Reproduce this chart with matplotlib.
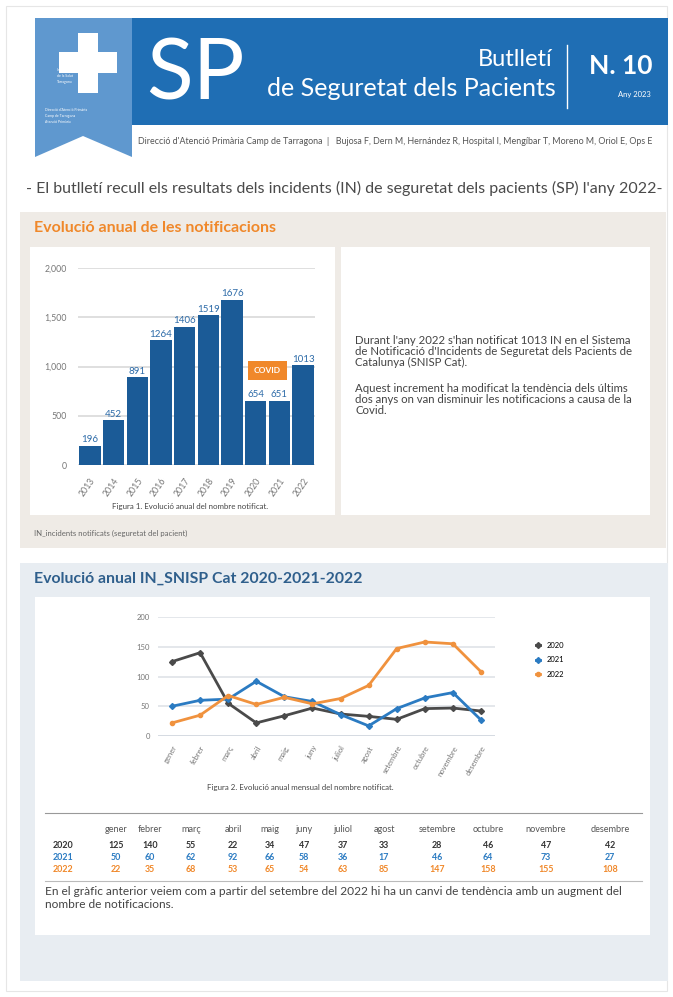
import matplotlib.pyplot as plt
from matplotlib.patches import Rectangle, Polygon

plt.rcParams['font.family'] = ['Lato', 'DejaVu Sans']

# notificacions anuals
anys = ['2013', '2014', '2015', '2016', '2017', '2018', '2019', '2020', '2021', '2022']
notificacions = [196, 452, 891, 1264, 1406, 1519, 1676, 654, 651, 1013]

# notificacions mensuals 2020-2022
mesos = ['gener', 'febrer', 'març', 'abril', 'maig', 'juny', 'juliol', 'agost',
         'setembre', 'octubre', 'novembre', 'desembre']
n2020 = [125, 140, 55, 22, 34, 47, 37, 33, 28, 46, 47, 42]
n2021 = [50, 60, 62, 92, 66, 58, 36, 17, 46, 64, 73, 27]
n2022 = [22, 35, 68, 53, 65, 54, 63, 85, 147, 158, 155, 108]

W, H = 673, 997
BLAU = '#1f6eb4'
BARRA = '#1b5b97'
TARONJA = '#f0882a'
GRIS = '#444444'

fig = plt.figure(figsize=(W / 100, H / 100), dpi=100)
fig.patch.set_facecolor('white')

# capa de fons en coordenades de pixel
bg = fig.add_axes([0, 0, 1, 1])
bg.set_xlim(0, W)
bg.set_ylim(H, 0)
bg.axis('off')


def caixa(x, y, w, h, color, **kw):
    bg.add_patch(Rectangle((x, y), w, h, facecolor=color, edgecolor='none', **kw))


def eix(x, y, w, h):
    return fig.add_axes([x / W, 1 - (y + h) / H, w / W, h / H])


# capçalera
bg.add_patch(Rectangle((6, 6), 661, 985, facecolor='none', edgecolor='#e6e6e6', lw=0.8))
caixa(35, 18, 633, 107, BLAU)
bg.add_patch(Polygon([(35, 18), (132, 18), (132, 157), (83, 136), (35, 157)],
                     closed=True, facecolor='#5f98cf', edgecolor='none'))
caixa(78, 33, 20, 60, 'white')
caixa(59, 52, 58, 21, 'white')
for yy, t in [(70, 'Institut Català'), (76, 'de la Salut'), (82, 'Tarragona')]:
    bg.text(57, yy, t, color='white', fontsize=2.5, ha='left', va='center')
for yy, t in [(110, 'Direcció d\'Atenció Primària'), (116, 'Camp de Tarragona'),
              (122, 'Atenció Primària')]:
    bg.text(45, yy, t, color='white', fontsize=2.5, ha='left', va='center')
bg.text(146, 76, 'SP', color='white', fontsize=62, ha='left', va='center')
bg.text(553, 60, 'Butlletí', color='white', fontsize=17, ha='right', va='center')
bg.text(556, 88, 'de Seguretat dels Pacients', color='white', fontsize=18,
        ha='right', va='center')
bg.plot([567, 567], [45, 108], color='white', lw=1)
bg.text(621, 66, 'N. 10', color='white', fontsize=19, fontweight='bold',
        ha='center', va='center')
bg.text(634, 94, 'Any 2023', color='white', fontsize=5.5, ha='center', va='center')
bg.text(138, 142, "Direcció d'Atenció Primària Camp de Tarragona  |   Bujosa F, Dern M, "
        "Hernández R, Hospital I, Mengíbar T, Moreno M, Oriol E, Ops E",
        color='#555555', fontsize=6.4, ha='left', va='center')

bg.text(344, 188, "- El butlletí recull els resultats dels incidents (IN) de seguretat "
        "dels pacients (SP) l'any 2022-", color='#4a4a4a', fontsize=11.5,
        ha='center', va='center')

# secció 1
caixa(20, 212, 646, 336, '#efebe6')
bg.text(34, 228, 'Evolució anual de les notificacions', color=TARONJA,
        fontsize=11.5, fontweight='bold', ha='left', va='center')
caixa(30, 247, 305, 268, 'white')
caixa(341, 247, 309, 268, 'white')
bg.text(34, 533, 'IN_incidents notificats (seguretat del pacient)', color='#666666',
        fontsize=5.6, ha='left', va='center')

text1 = ["Durant l'any 2022 s'han notificat 1013 IN en el Sistema",
         "de Notificació d'Incidents de Seguretat dels Pacients de",
         "Catalunya (SNISP Cat)."]
text2 = ["Aquest increment ha modificat la tendència dels últims",
         "dos anys on van disminuir les notificacions a causa de la",
         "Covid."]
for i, t in enumerate(text1):
    bg.text(355, 340 + i * 11, t, color='#444444', fontsize=8.2, ha='left', va='center')
for i, t in enumerate(text2):
    bg.text(355, 388 + i * 11, t, color='#444444', fontsize=8.2, ha='left', va='center')

# gràfic de barres
ax1 = eix(78, 268, 237, 197)
ax1.bar(anys, notificacions, width=0.9, color=BARRA, zorder=3)
ax1.set_ylim(0, 2000)
ax1.set_xlim(-0.5, len(anys) - 0.5)
ax1.set_yticks([0, 500, 1000, 1500, 2000])
ax1.set_yticklabels(['0', '500', '1,000', '1,500', '2,000'])
ax1.grid(axis='y', color='#d9d9d9', lw=1.2, zorder=0)
for s in ax1.spines.values():
    s.set_visible(False)
ax1.tick_params(length=0, labelsize=6.3, colors='#777777', pad=8)
plt.setp(ax1.get_xticklabels(), rotation=55, ha='right', rotation_mode='anchor')
for i, v in enumerate(notificacions):
    ax1.text(i, v + 15, str(v), color='#2d6ba8', fontsize=7, ha='center', va='bottom',
             zorder=4)
ax1.text(7.5, 960, 'COVID', color='white', fontsize=6, fontweight='bold',
         ha='center', va='center', zorder=5,
         bbox=dict(boxstyle='square,pad=0.75', facecolor=TARONJA, edgecolor='none'))
bg.text(190, 506, 'Figura 1. Evolució anual del nombre notificat.', color='#444444',
        fontsize=5.7, ha='center', va='center')

# secció 2
caixa(20, 563, 648, 418, '#e8edf2')
bg.text(34, 579, 'Evolució anual IN_SNISP Cat 2020-2021-2022', color='#2f5f8c',
        fontsize=11.4, fontweight='bold', ha='left', va='center')
caixa(35, 597, 615, 338, 'white')

ax2 = eix(158, 617, 337, 119)
x = range(len(mesos))
ax2.plot(x, n2020, color='#4a4a4a', lw=2, marker='D', ms=3, label='2020', zorder=3)
ax2.plot(x, n2021, color='#2b7bc2', lw=2, marker='D', ms=3, label='2021', zorder=3)
ax2.plot(x, n2022, color='#f0923e', lw=2, marker='o', ms=3, label='2022', zorder=3)
ax2.set_ylim(0, 200)
ax2.set_xlim(-0.5, 11.5)
ax2.set_yticks([0, 50, 100, 150, 200])
ax2.set_xticks(list(x))
ax2.set_xticklabels(mesos)
ax2.grid(axis='y', color='#dfe3e8', lw=1.2, zorder=0)
ax2.axhline(0, color='#9aaabb', lw=1.2, zorder=1)
for s in ax2.spines.values():
    s.set_visible(False)
ax2.tick_params(length=0, labelsize=5.5, colors='#777777', pad=6)
plt.setp(ax2.get_xticklabels(), rotation=60, ha='right', rotation_mode='anchor')
ax2.legend(loc='upper left', bbox_to_anchor=(1.1, 0.85), frameon=False, fontsize=5.5,
           handlelength=0.6, labelspacing=1.0)
bg.text(300, 787, 'Figura 2. Evolució anual mensual del nombre notificat.',
        color='#444444', fontsize=5.7, ha='center', va='center')

# taula de valors mensuals
cols = [116, 150, 191, 233, 270, 304, 343, 384, 437, 488, 546, 610]
bg.plot([45, 642], [813, 813], color='#999999', lw=0.8)
bg.plot([45, 642], [881, 881], color='#bbbbbb', lw=0.8)
for cx, m in zip(cols, mesos):
    bg.text(cx, 829, m, color='#555555', fontsize=6.6, ha='center', va='center')
files = [('2020', n2020, '#333333'), ('2021', n2021, '#2b7bc2'), ('2022', n2022, TARONJA)]
for r, (nom, vals, c) in enumerate(files):
    yy = 845 + r * 12
    bg.text(63, yy, nom, color=c, fontsize=6.4, fontweight='bold', ha='center', va='center')
    for cx, v in zip(cols, vals):
        bg.text(cx, yy, str(v), color=c, fontsize=6.4, fontweight='bold',
                ha='center', va='center')

bg.text(45, 891, "En el gràfic anterior veiem com a partir del setembre del 2022 hi ha un "
        "canvi de tendència amb un augment del", color='#444444', fontsize=8.6,
        ha='left', va='center')
bg.text(45, 904, 'nombre de notificacions.', color='#444444', fontsize=8.6,
        ha='left', va='center')

fig.savefig('out.png', dpi=100)
